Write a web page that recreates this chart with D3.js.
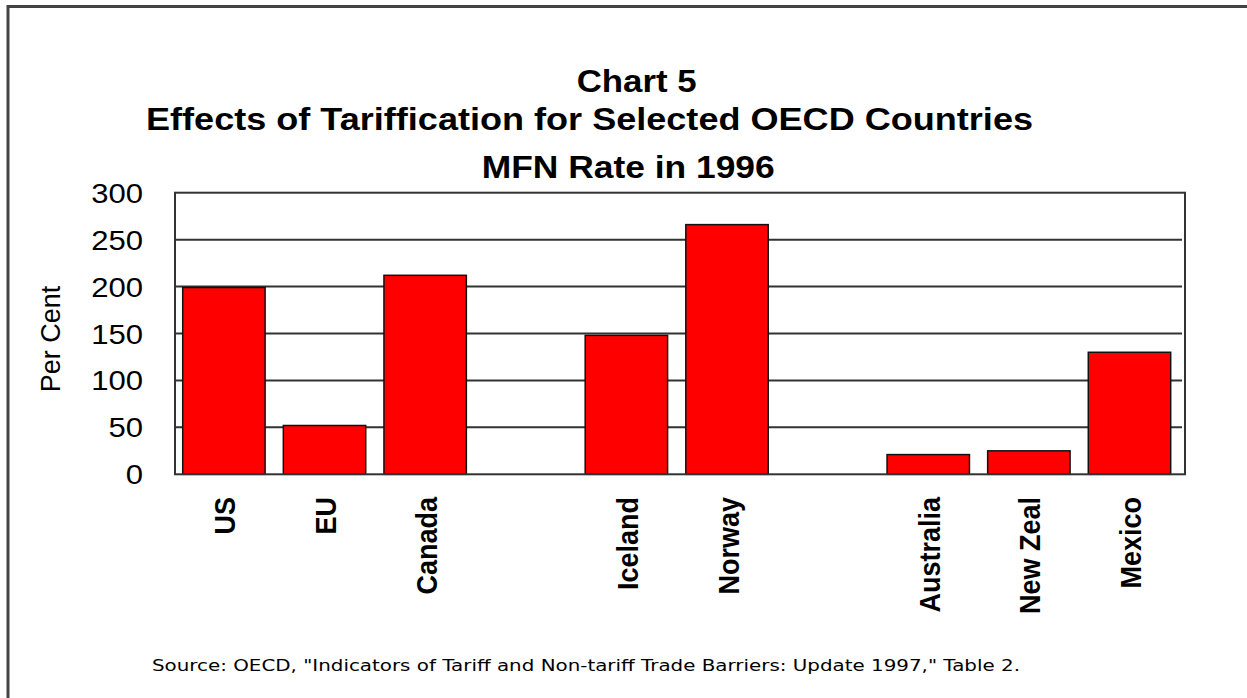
<!DOCTYPE html>
<html><head><meta charset="utf-8">
<script src="https://cdn.jsdelivr.net/npm/d3@7"></script>
<style>body{margin:0;background:#fff;overflow:hidden}</style>
</head><body>
<svg id="c" width="1247" height="698"></svg>
<script>
// ---- data ----
const slots = ["US","EU","Canada","_gap1","Iceland","Norway","_gap2","Australia","New Zeal","Mexico"];
const countries = ["US","EU","Canada","Iceland","Norway","Australia","New Zeal","Mexico"];
const values = [199, 52, 212, 148, 266, 21, 25, 130];
const yTicks = [0, 50, 100, 150, 200, 250, 300];
const titleLines = ["Chart 5", "Effects of Tariffication for Selected OECD Countries", "MFN Rate in 1996"];
const yLabel = "Per Cent";
const sourceText = 'Source: OECD, "Indicators of Tariff and Non-tariff Trade Barriers: Update 1997," Table 2.';

// ---- layout ----
const svg = d3.select("#c");
const plot = {x0: 175, x1: 1185, y0: 474.3, y1: 192.7};

const x = d3.scaleBand().domain(slots).range([173.6, 1179.8])
  .paddingInner(0.181).paddingOuter(0.0905);
const y = d3.scaleLinear().domain([0, 300]).range([plot.y0, plot.y1]);

// outer frame (open at right and bottom)
svg.append("path").attr("d", "M8,698 V6.5 H1247")
  .attr("fill", "none").attr("stroke", "#444").attr("stroke-width", 3);

// titles
const titleSpecs = [
  {x: 576.7, y: 91.7, w: 120},
  {x: 146, y: 130, w: 887},
  {x: 481.7, y: 178.3, w: 293}
];
svg.selectAll("text.title").data(titleLines).join("text")
  .attr("class", "title")
  .attr("x", (d, i) => titleSpecs[i].x)
  .attr("y", (d, i) => titleSpecs[i].y)
  .attr("textLength", (d, i) => titleSpecs[i].w)
  .attr("lengthAdjust", "spacingAndGlyphs")
  .attr("font-family", "Liberation Sans, Arial, sans-serif")
  .attr("font-weight", "bold").attr("font-size", 31)
  .attr("fill", "#000")
  .text(d => d);

// gridlines
svg.append("g").selectAll("line").data(yTicks.filter(t => t > 0 && t < 300)).join("line")
  .attr("x1", plot.x0).attr("x2", plot.x1 - 3)
  .attr("y1", d => y(d)).attr("y2", d => y(d))
  .attr("stroke", "#333").attr("stroke-width", 2);

// bars
svg.append("g").selectAll("rect").data(countries).join("rect")
  .attr("x", d => x(d))
  .attr("width", x.bandwidth())
  .attr("y", (d, i) => y(values[i]))
  .attr("height", (d, i) => y(0) - y(values[i]))
  .attr("fill", "#ff0000").attr("stroke", "#111").attr("stroke-width", 1.5);

// plot border
svg.append("rect")
  .attr("x", plot.x0).attr("y", plot.y1)
  .attr("width", plot.x1 - plot.x0).attr("height", plot.y0 - plot.y1)
  .attr("fill", "none").attr("stroke", "#333").attr("stroke-width", 2);

// y tick labels
svg.append("g").selectAll("text").data(yTicks).join("text")
  .attr("transform", d => `translate(143,${y(d) + 10}) scale(1.11,1)`)
  .attr("text-anchor", "end")
  .attr("font-family", "Liberation Sans, Arial, sans-serif")
  .attr("font-size", 28).attr("fill", "#000")
  .text(d => d);

// y label
svg.append("text")
  .attr("transform", "translate(59.5,339) rotate(-90)")
  .attr("text-anchor", "middle")
  .attr("font-family", "Liberation Sans, Arial, sans-serif")
  .attr("font-size", 27).attr("fill", "#000")
  .text(yLabel);

// x labels
svg.append("g").selectAll("text").data(countries).join("text")
  .attr("transform", d => `translate(${x(d) + x.bandwidth() / 2 + 11.5},497) rotate(-90) scale(0.93,1)`)
  .attr("text-anchor", "end")
  .attr("font-family", "Liberation Sans, Arial, sans-serif")
  .attr("font-weight", "bold").attr("font-size", 29).attr("fill", "#000")
  .text(d => d);

// source
svg.append("text")
  .attr("x", 152).attr("y", 671)
  .attr("textLength", 868).attr("lengthAdjust", "spacingAndGlyphs")
  .attr("font-family", "DejaVu Sans, Verdana, sans-serif")
  .attr("font-size", 15).attr("fill", "#000")
  .text(sourceText);
</script>
</body></html>
